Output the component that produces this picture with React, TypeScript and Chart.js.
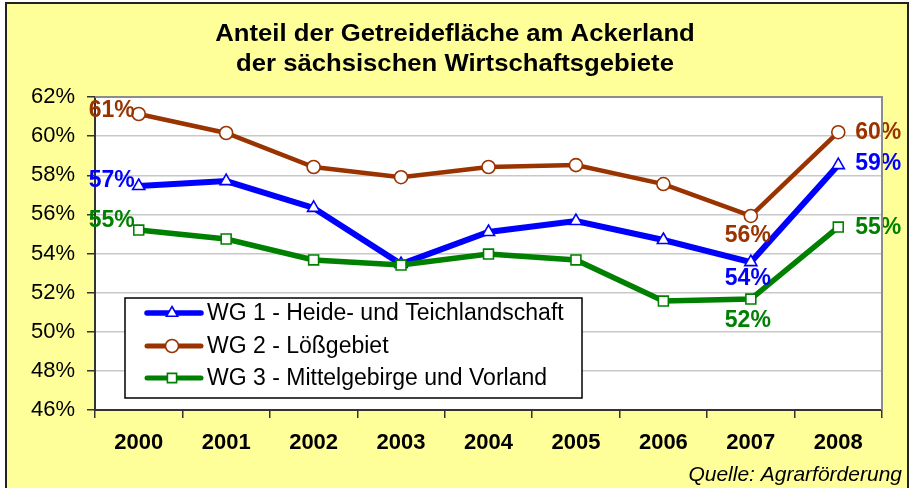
import React, { useEffect, useRef } from "react";
import { Chart, registerables } from "chart.js";

Chart.register(...registerables);

const years = ["2000", "2001", "2002", "2003", "2004", "2005", "2006", "2007", "2008"];
const wg1Values = [57.45, 57.7, 56.33, 53.46, 55.1, 55.66, 54.69, 53.56, 58.52];
const wg2Values = [61.13, 60.16, 58.42, 57.9, 58.42, 58.52, 57.55, 55.92, 60.2];
const wg3Values = [55.2, 54.74, 53.67, 53.41, 53.97, 53.67, 51.57, 51.67, 55.35];
const seriesNames = [
  "WG 1 - Heide- und Teichlandschaft",
  "WG 2 - Lößgebiet",
  "WG 3 - Mittelgebirge und Vorland",
];
const titleLines = ["Anteil der Getreidefläche am Ackerland", "der sächsischen Wirtschaftsgebiete"];
const sourceText = "Quelle: Agrarförderung";
const yMin = 46;
const yMax = 62;
const yStep = 2;

const FONT = '"Liberation Sans", Arial, sans-serif';
const BLUE = "#0000FF";
const BROWN = "#993300";
const GREEN = "#008000";
const YELLOW = "#FFFF99";

// label offsets per dataset for labelled points
const labelPlacement: Record<number, { align: CanvasTextAlign; dx: number; dy: number[] }> = {
  0: { align: "right", dx: -4, dy: [-5, -3, -9] },
  7: { align: "center", dx: -3, dy: [17, 20, 22] },
  8: { align: "left", dx: 17, dy: [-1, 0, 1] },
};

function drawMarker(ctx: CanvasRenderingContext2D, style: string, x: number, y: number, r: number, color: string) {
  ctx.save();
  ctx.strokeStyle = color;
  ctx.fillStyle = "#FFFFFF";
  ctx.lineWidth = 1.6;
  ctx.beginPath();
  if (style === "circle") {
    ctx.arc(x, y, r, 0, Math.PI * 2);
  } else if (style === "triangle") {
    ctx.moveTo(x, y - r);
    ctx.lineTo(x + r * 0.866, y + r * 0.5);
    ctx.lineTo(x - r * 0.866, y + r * 0.5);
    ctx.closePath();
  } else {
    const s = r * Math.SQRT1_2;
    ctx.rect(x - s, y - s, 2 * s, 2 * s);
  }
  ctx.fill();
  ctx.stroke();
  ctx.restore();
}

function stretchedText(ctx: CanvasRenderingContext2D, text: string, x: number, y: number, sx: number) {
  ctx.save();
  ctx.translate(x, y);
  ctx.scale(sx, 1);
  ctx.fillText(text, 0, 0);
  ctx.restore();
}

const decorPlugin = {
  id: "decor",
  beforeDraw(chart: any) {
    const { ctx, width, height, chartArea } = chart;
    ctx.save();
    ctx.fillStyle = "#FFFFFF";
    ctx.fillRect(0, 0, width, height);
    ctx.fillStyle = YELLOW;
    ctx.fillRect(6, 3, 902, 500);
    ctx.fillStyle = "#FFFFFF";
    ctx.fillRect(chartArea.left, chartArea.top, chartArea.right - chartArea.left, chartArea.bottom - chartArea.top);
    ctx.restore();
  },
  afterDatasetsDraw(chart: any) {
    const { ctx } = chart;
    const colors = [BLUE, BROWN, GREEN];
    ctx.save();
    ctx.font = `bold 23px ${FONT}`;
    ctx.textBaseline = "middle";
    chart.data.datasets.forEach((ds: any, di: number) => {
      const meta = chart.getDatasetMeta(di);
      Object.keys(labelPlacement).forEach((k) => {
        const idx = Number(k);
        const p = labelPlacement[idx];
        const el = meta.data[idx];
        if (!el) return;
        ctx.fillStyle = colors[di];
        ctx.textAlign = p.align;
        ctx.fillText(Math.round(ds.data[idx]) + "%", el.x + p.dx, el.y + p.dy[di]);
      });
    });
    ctx.restore();
  },
  afterDraw(chart: any) {
    const { ctx, chartArea } = chart;
    ctx.save();
    // plot top/right border
    ctx.strokeStyle = "#8C8C8C";
    ctx.lineWidth = 2;
    ctx.beginPath();
    ctx.moveTo(chartArea.left, chartArea.top);
    ctx.lineTo(chartArea.right, chartArea.top);
    ctx.lineTo(chartArea.right, chartArea.bottom);
    ctx.stroke();

    // outer frame
    ctx.strokeStyle = "#222222";
    ctx.lineWidth = 2;
    ctx.strokeRect(6, 3, 902, 500);

    // title
    ctx.fillStyle = "#000000";
    ctx.font = `bold 24px ${FONT}`;
    ctx.textAlign = "center";
    ctx.textBaseline = "middle";
    stretchedText(ctx, titleLines[0], 455, 34, 1.07);
    stretchedText(ctx, titleLines[1], 455, 64, 1.07);

    // source
    ctx.font = `italic 21px ${FONT}`;
    ctx.textAlign = "right";
    ctx.fillText(sourceText, 902, 475);

    // legend
    const lx = 125, ly = 298, lw = 457, lh = 100;
    ctx.fillStyle = "#FFFFFF";
    ctx.fillRect(lx, ly, lw, lh);
    ctx.strokeStyle = "#000000";
    ctx.lineWidth = 1.5;
    ctx.strokeRect(lx, ly, lw, lh);
    const rows = [313, 346, 378];
    const styles = ["triangle", "circle", "rect"];
    const colors = [BLUE, BROWN, GREEN];
    const widths = [5.5, 5, 5];
    const radii = [6.5, 6.5, 6.5];
    ctx.font = `23px ${FONT}`;
    ctx.textAlign = "left";
    ctx.textBaseline = "middle";
    seriesNames.forEach((name, i) => {
      const y = rows[i];
      ctx.strokeStyle = colors[i];
      ctx.lineWidth = widths[i];
      ctx.lineCap = "round";
      ctx.beginPath();
      ctx.moveTo(147, y);
      ctx.lineTo(201, y);
      ctx.stroke();
      drawMarker(ctx, styles[i], 172, y, radii[i], colors[i]);
      ctx.fillStyle = "#000000";
      ctx.fillText(name, 207, y + 1);
    });
    ctx.restore();
  },
};

export default function App() {
  const canvasRef = useRef<HTMLCanvasElement | null>(null);

  useEffect(() => {
    if (!canvasRef.current) return;
    const chart = new Chart(canvasRef.current, {
      type: "line",
      data: {
        labels: years,
        datasets: [
          {
            label: seriesNames[0],
            data: wg1Values,
            borderColor: BLUE,
            backgroundColor: "#FFFFFF",
            borderWidth: 6,
            pointStyle: "triangle",
            pointRadius: 7,
            pointBorderWidth: 1.6,
            pointBackgroundColor: "#FFFFFF",
            pointBorderColor: BLUE,
            tension: 0,
            order: 1,
          },
          {
            label: seriesNames[1],
            data: wg2Values,
            borderColor: BROWN,
            backgroundColor: "#FFFFFF",
            borderWidth: 4.5,
            pointStyle: "circle",
            pointRadius: 6.5,
            pointBorderWidth: 1.6,
            pointBackgroundColor: "#FFFFFF",
            pointBorderColor: BROWN,
            tension: 0,
            order: 2,
          },
          {
            label: seriesNames[2],
            data: wg3Values,
            borderColor: GREEN,
            backgroundColor: "#FFFFFF",
            borderWidth: 5.5,
            pointStyle: "rect",
            pointRadius: 7,
            pointBorderWidth: 1.6,
            pointBackgroundColor: "#FFFFFF",
            pointBorderColor: GREEN,
            tension: 0,
            order: 0,
          },
        ],
      },
      options: {
        responsive: false,
        animation: false,
        layout: { padding: { top: 97, right: 29, left: 0, bottom: 0 } },
        plugins: {
          legend: { display: false },
          title: { display: false },
          tooltip: { enabled: false },
        },
        scales: {
          x: {
            offset: true,
            grid: {
              offset: true,
              drawOnChartArea: false,
              drawTicks: true,
              tickLength: 8,
              tickColor: "#333333",
              lineWidth: 1.5,
            },
            border: { color: "#333333", width: 2 },
            ticks: {
              color: "#000000",
              font: { family: FONT, size: 22, weight: "bold" },
              padding: 12,
              maxRotation: 0,
            },
            afterFit: (s: any) => {
              s.height = 78;
            },
          },
          y: {
            min: yMin,
            max: yMax,
            ticks: {
              stepSize: yStep,
              callback: (v: any) => v + "%",
              color: "#000000",
              font: { family: FONT, size: 22 },
              padding: 12,
            },
            grid: {
              color: "#C8C8C8",
              lineWidth: 1.5,
              tickColor: "#333333",
              tickLength: 8,
            },
            border: { color: "#333333", width: 2 },
            afterFit: (s: any) => {
              s.width = 95;
            },
          },
        },
      },
      plugins: [decorPlugin],
    });
    return () => chart.destroy();
  }, []);

  return (
    <div style={{ position: "absolute", left: 0, top: 0, width: 911, height: 488, overflow: "hidden" }}>
      <canvas ref={canvasRef} width={911} height={488} style={{ display: "block" }} />
    </div>
  );
}
